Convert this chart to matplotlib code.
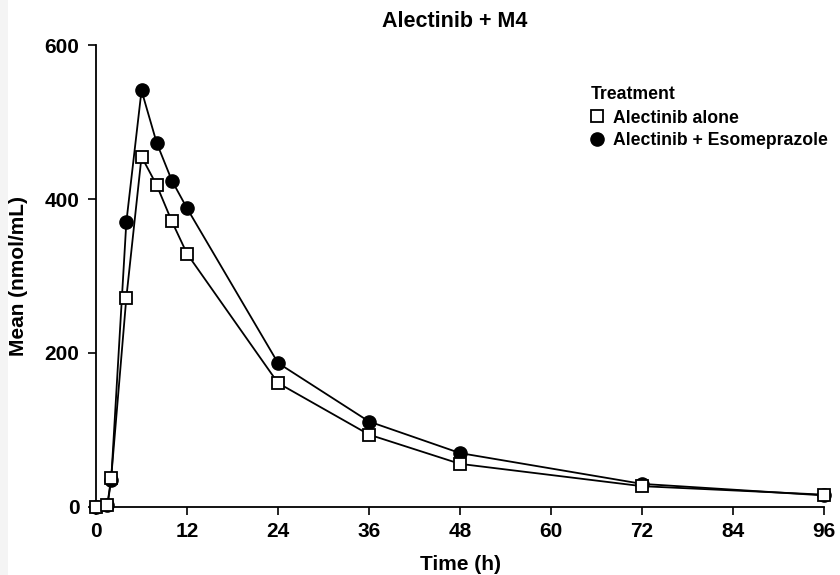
import matplotlib
matplotlib.use('Agg')
import matplotlib.pyplot as plt
from matplotlib.lines import Line2D
from matplotlib.patches import Rectangle

plt.rcParams['font.family'] = ['Liberation Sans', 'DejaVu Sans']
plt.rcParams['font.weight'] = 'bold'

# Mean concentration (nmol/mL) over time (h)
time_h = [0, 1.5, 2, 4, 6, 8, 10, 12, 24, 36, 48, 72, 96]
alone = [0, 3, 38, 272, 455, 418, 371, 329, 161, 94, 56, 27, 16]
esomeprazole = [0, 2, 35, 370, 541, 473, 424, 388, 187, 111, 70, 30, 15]

x_ticks = [0, 12, 24, 36, 48, 60, 72, 84, 96]
y_ticks = [0, 200, 400, 600]

fig = plt.figure(figsize=(8.4, 5.75), dpi=100)
# faint grey strip on the left edge of the original scan
fig.patches.append(Rectangle((0, 0), 8 / 840, 1, transform=fig.transFigure,
                             facecolor='#f4f4f4', edgecolor='none', zorder=0))
ax = fig.add_axes([0.1143, 0.1183, 0.8667, 0.8034])

ax.plot(time_h, esomeprazole, color='black', linewidth=1.3, marker='o',
        markersize=9.5, markerfacecolor='black', markeredgecolor='black',
        clip_on=False, zorder=3)
ax.plot(time_h, alone, color='black', linewidth=1.3, marker='s',
        markersize=8.5, markerfacecolor='white', markeredgecolor='black',
        markeredgewidth=1.3, clip_on=False, zorder=4)

ax.set_xlim(0, 96)
ax.set_ylim(0, 600)
ax.set_xticks(x_ticks)
ax.set_yticks(y_ticks)
ax.tick_params(direction='out', length=6, width=1.2, labelsize=15)
ax.tick_params(axis='x', pad=5)
ax.tick_params(axis='y', pad=6)
for lbl in ax.get_xticklabels() + ax.get_yticklabels():
    lbl.set_fontweight('bold')

for side in ['top', 'right']:
    ax.spines[side].set_visible(False)
for side in ['left', 'bottom']:
    ax.spines[side].set_linewidth(1.3)

ax.set_xlabel('Time (h)', fontsize=15, fontweight='bold', labelpad=10)
ax.set_ylabel('Mean (nmol/mL)', fontsize=15, fontweight='bold', labelpad=12)
fig.text(0.541, 0.962, 'Alectinib + M4', ha='center', va='center',
         fontsize=15.5, fontweight='bold')

handles = [
    Line2D([], [], linestyle='none', marker='s', markersize=8.5,
           markerfacecolor='white', markeredgecolor='black', markeredgewidth=1.3),
    Line2D([], [], linestyle='none', marker='o', markersize=9.5,
           markerfacecolor='black', markeredgecolor='black'),
]
leg = ax.legend(handles, ['Alectinib alone', 'Alectinib + Esomeprazole'],
                title='Treatment', loc='upper left', bbox_to_anchor=(0.679, 0.912),
                frameon=False, prop={'size': 12.7, 'weight': 'bold'},
                handlelength=0.8, handletextpad=0.5, labelspacing=0.3,
                borderaxespad=0, borderpad=0)
leg.get_title().set_fontweight('bold')
leg.get_title().set_fontsize(12.7)
leg._legend_box.align = 'left'
leg._legend_box.sep = 5

fig.savefig('out.png', dpi=100)
